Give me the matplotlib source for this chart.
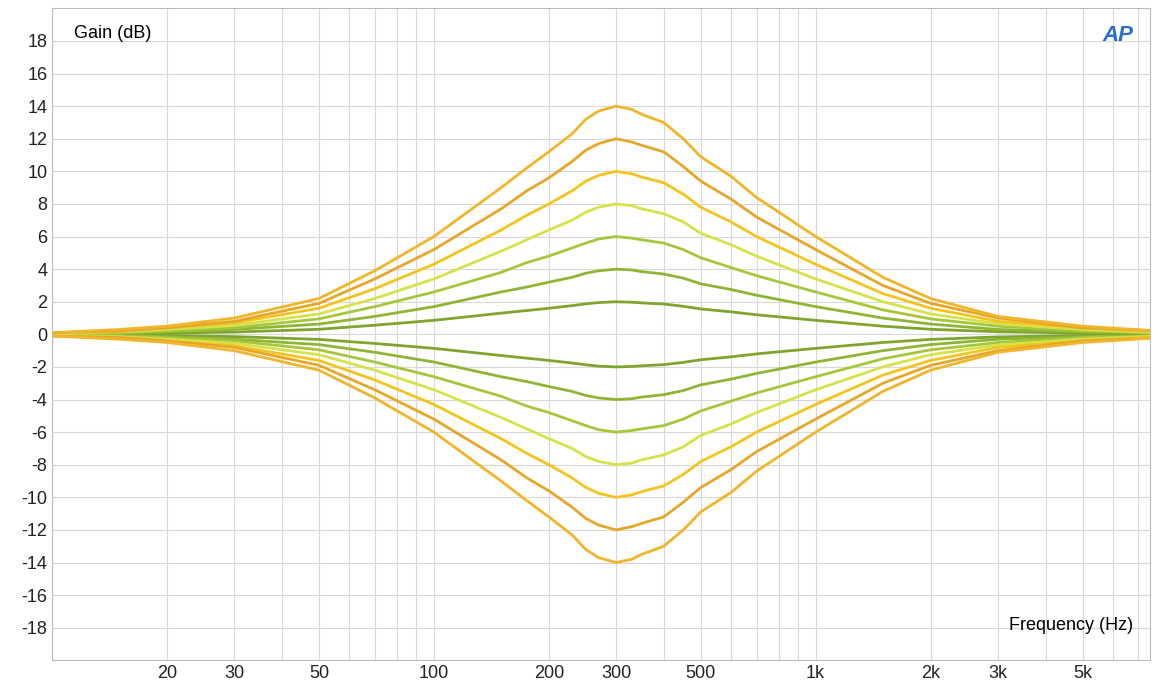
import matplotlib
matplotlib.use("Agg")
import matplotlib.pyplot as plt
from matplotlib.ticker import FixedLocator, NullFormatter, LogLocator

plt.rcParams['font.family'] = ['Liberation Sans', 'DejaVu Sans']

freqs = [10,15,20,30,50,70,100,150,175,200,230,250,270,300,330,350,400,450,500,600,700,1000,1500,2000,3000,5000,8000,10000]
gain_labels = [14,12,10,8,6,4,2]
curves_pos = {
    14: [0.1,0.3,0.5,1.0,2.2,3.9,6.0,9.0,10.2,11.2,12.3,13.2,13.7,14.0,13.8,13.5,13.0,12.0,10.9,9.7,8.4,6.0,3.5,2.2,1.1,0.5,0.2,0.1],
    12: [0.1,0.2,0.4,0.8,1.9,3.4,5.2,7.7,8.8,9.6,10.6,11.3,11.7,12.0,11.8,11.6,11.2,10.3,9.4,8.3,7.2,5.2,3.0,1.9,1.0,0.4,0.2,0.1],
    10: [0.1,0.2,0.4,0.7,1.6,2.8,4.3,6.4,7.3,8.0,8.8,9.4,9.75,10.0,9.85,9.65,9.3,8.6,7.8,6.9,6.0,4.3,2.5,1.6,0.8,0.4,0.15,0.1],
    8:  [0.05,0.15,0.3,0.55,1.25,2.2,3.4,5.1,5.8,6.4,7.0,7.5,7.8,8.0,7.9,7.7,7.4,6.9,6.2,5.5,4.8,3.4,2.0,1.25,0.65,0.3,0.1,0.05],
    6:  [0.05,0.1,0.2,0.4,0.95,1.7,2.6,3.8,4.4,4.8,5.3,5.6,5.85,6.0,5.9,5.8,5.6,5.2,4.7,4.1,3.6,2.6,1.5,0.95,0.5,0.2,0.1,0.05],
    4:  [0.03,0.08,0.15,0.3,0.63,1.1,1.7,2.6,2.9,3.2,3.5,3.75,3.9,4.0,3.95,3.85,3.7,3.45,3.1,2.75,2.4,1.7,1.0,0.63,0.3,0.15,0.06,0.03],
    2:  [0.01,0.04,0.07,0.14,0.31,0.56,0.86,1.3,1.46,1.6,1.76,1.87,1.95,2.0,1.97,1.93,1.86,1.72,1.56,1.38,1.2,0.86,0.5,0.31,0.16,0.07,0.03,0.01],
}
colors = {14:"#f0b52a",12:"#e6a62a",10:"#f3c41e",8:"#d6e24a",6:"#a6c63c",4:"#8fb535",2:"#7ea52e"}
xticks = [20,30,50,100,200,300,500,1000,2000,3000,5000]
xlabels = ["20","30","50","100","200","300","500","1k","2k","3k","5k"]
yticks = list(range(-18,19,2))

fig = plt.figure(figsize=(11.59,6.98), dpi=100)
ax = fig.add_axes([0.045,0.054,0.947,0.934])
ax.set_xscale("log")
for g in gain_labels[::-1]:
    ax.plot(freqs, curves_pos[g], color=colors[g], lw=2, solid_joinstyle="round")
    ax.plot(freqs, [-v for v in curves_pos[g]], color=colors[g], lw=2, solid_joinstyle="round")
ax.set_xlim(10,7500)
ax.set_ylim(-20,20)
ax.xaxis.set_major_locator(FixedLocator(xticks))
ax.set_xticklabels(xlabels)
ax.xaxis.set_minor_locator(LogLocator(base=10, subs=range(1,10), numticks=20))
ax.xaxis.set_minor_formatter(NullFormatter())
ax.set_yticks(yticks)
ax.set_yticklabels([str(t) for t in yticks])
ax.grid(True, which="both", color="#d8d8d8", lw=0.8)
ax.set_axisbelow(True)
ax.tick_params(which="both", length=0, labelsize=13, colors="#222222")
for s in ax.spines.values():
    s.set_color("#bbbbbb")
ax.text(0.02,0.975,"Gain (dB)",transform=ax.transAxes,fontsize=13,va="top",ha="left")
ax.text(0.985,0.04,"Frequency (Hz)",transform=ax.transAxes,fontsize=13,va="bottom",ha="right")
ax.text(0.985,0.975,"AP",transform=ax.transAxes,fontsize=16,va="top",ha="right",
        color="#2a6fd0",style="italic",fontweight="bold")
fig.savefig("out.png")
